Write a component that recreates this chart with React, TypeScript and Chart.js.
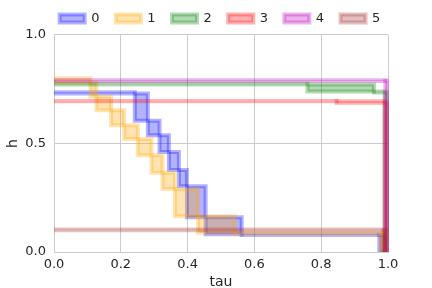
import React, { useEffect, useRef } from 'react';
import { Chart, registerables } from 'chart.js';

Chart.register(...registerables);

// Series labels and colours
const seriesLabels = ['0', '1', '2', '3', '4', '5'];
const seriesRGB = ['0,0,255', '255,165,0', '0,128,0', '255,0,0', '191,0,191', '165,42,42'];

// Step points (tau, h) of each series; each consecutive pair spans one box
const tau0 = [0, 0.242, 0.281, 0.316, 0.344, 0.374, 0.398, 0.454, 0.562, 0.974, 0.99];
const h0 = [0.736, 0.73, 0.604, 0.538, 0.461, 0.378, 0.303, 0.16, 0.082, 0.078, 0];

const tau1 = [0, 0.109, 0.127, 0.171, 0.21, 0.251, 0.292, 0.325, 0.362, 0.431, 0.541, 0.978, 0.99];
const h1 = [0.8, 0.78, 0.716, 0.653, 0.584, 0.52, 0.446, 0.365, 0.29, 0.165, 0.089, 0.084, 0];

const tau2 = [0, 0.759, 0.958, 0.99, 0.997];
const h2 = [0.775, 0.771, 0.739, 0.735, 0];

const tau3 = [0, 0.846, 0.99, 0.997];
const h3 = [0.696, 0.694, 0.688, 0];

const tau4 = [0, 0.992, 0.998];
const h4 = [0.791, 0.788, 0];

const tau5 = [0, 0.986, 0.994];
const h5 = [0.104, 0.1, 0];

// Axis ticks
const xTicks = [0, 0.2, 0.4, 0.6, 0.8, 1.0];
const yTicks = [0, 0.5, 1.0];

const FONT = 'DejaVu Sans';
const TEXT = '#262626';
const GRID = '#cccccc';

export default function App() {
  const ref = useRef<HTMLCanvasElement | null>(null);

  useEffect(() => {
    if (!ref.current) return;
    const taus = [tau0, tau1, tau2, tau3, tau4, tau5];
    const hs = [h0, h1, h2, h3, h4, h5];

    let total = 0;
    taus.forEach((t) => (total += t.length - 1));

    const datasets: any[] = [];
    const firstIndex: number[] = [];
    let g = 0;
    taus.forEach((t, s) => {
      const h = hs[s];
      firstIndex.push(datasets.length);
      for (let i = 0; i < t.length - 1; i++) {
        const x1 = t[i], x2 = t[i + 1], y1 = h[i], y2 = h[i + 1];
        datasets.push({
          label: seriesLabels[s],
          data: [
            { x: x1, y: y1 },
            { x: x2, y: y1 },
            { x: x2, y: y2 },
            { x: x1, y: y2 },
            { x: x1, y: y1 },
          ],
          backgroundColor: `rgba(${seriesRGB[s]},0.3)`,
          borderColor: `rgba(${seriesRGB[s]},0.3)`,
          borderWidth: 4,
          borderJoinStyle: 'miter',
          borderCapStyle: 'square',
          fill: 'shape',
          tension: 0,
          pointRadius: 0,
          pointHoverRadius: 0,
          clip: { left: 0, top: 0, right: 1, bottom: 0 },
          order: total - g,
        });
        g++;
      }
    });

    const chart = new Chart(ref.current, {
      type: 'line',
      data: { datasets },
      options: {
        animation: false,
        responsive: false,
        events: [],
        layout: { padding: { top: -4.5, right: 0, bottom: 0, left: 8 } },
        plugins: {
          tooltip: { enabled: false },
          legend: {
            position: 'top',
            onClick: () => {},
            labels: {
              boxWidth: 25,
              boxHeight: 8,
              padding: 16.4,
              color: TEXT,
              font: { family: FONT, size: 13 },
              generateLabels: () =>
                seriesLabels.map((text, k) => ({
                  text,
                  fillStyle: `rgba(${seriesRGB[k]},0.3)`,
                  strokeStyle: `rgba(${seriesRGB[k]},0.3)`,
                  lineWidth: 4,
                  hidden: false,
                  datasetIndex: firstIndex[k],
                  fontColor: TEXT,
                })),
            },
          },
        },
        scales: {
          x: {
            type: 'linear',
            min: 0,
            max: 1,
            afterFit: (scale: any) => {
              scale.height = 36;
            },
            afterBuildTicks: (scale: any) => {
              scale.ticks = xTicks.map((v) => ({ value: v }));
            },
            grid: { color: GRID, lineWidth: 1, drawTicks: false },
            border: { display: true, color: GRID, width: 1 },
            ticks: {
              padding: 5,
              color: TEXT,
              font: { family: FONT, size: 13 },
              callback: (v: any) => Number(v).toFixed(1),
            },
            title: {
              display: true,
              text: 'tau',
              color: TEXT,
              font: { family: FONT, size: 14 },
              padding: { top: 4, bottom: -3 },
            },
          },
          y: {
            type: 'linear',
            min: 0,
            max: 1,
            afterFit: (scale: any) => {
              scale.width = 46;
            },
            afterBuildTicks: (scale: any) => {
              scale.ticks = yTicks.map((v) => ({ value: v }));
            },
            grid: { color: GRID, lineWidth: 1, drawTicks: false },
            border: { display: true, color: GRID, width: 1 },
            ticks: {
              padding: 8,
              color: TEXT,
              font: { family: FONT, size: 13 },
              callback: (v: any) => Number(v).toFixed(1),
            },
            title: {
              display: true,
              text: 'h',
              color: TEXT,
              font: { family: FONT, size: 14 },
              padding: { top: -2.8, bottom: 0 },
            },
          },
          yRight: {
            type: 'linear',
            position: 'right',
            min: 0,
            max: 1,
            afterFit: (scale: any) => {
              scale.width = 44;
            },
            grid: { display: false, drawOnChartArea: false },
            border: { display: false },
            ticks: { display: false },
          },
        },
      } as any,
    });
    return () => chart.destroy();
  }, []);

  return (
    <div style={{ position: 'fixed', left: 0, top: 0, width: 432, height: 288, background: '#fff' }}>
      <canvas ref={ref} width={432} height={288} style={{ width: 432, height: 288, display: 'block' }} />
    </div>
  );
}
